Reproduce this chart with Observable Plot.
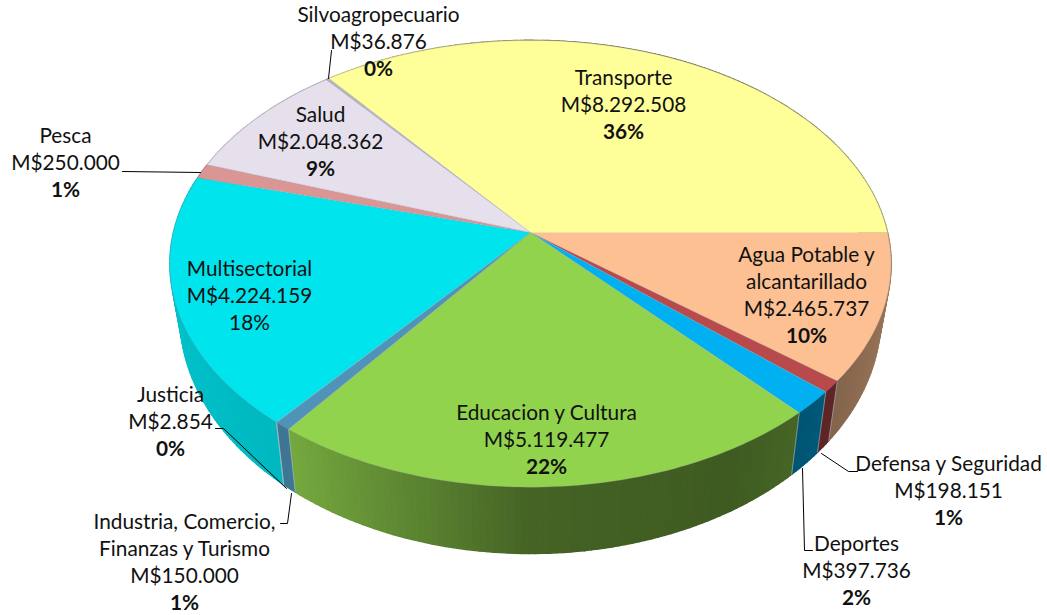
<!DOCTYPE html>
<html>
<head>
<meta charset="utf-8">
<script src="https://cdn.jsdelivr.net/npm/d3@7"></script>
<script src="https://cdn.jsdelivr.net/npm/@observablehq/plot@0.6"></script>
<style>
  html, body { margin: 0; padding: 0; background: #fff; }
  svg { display: block; }
</style>
</head>
<body>
<div id="chart"></div>
<script>
// ---- chart data (clockwise from the horizontal right-hand radius) ----
const sectors = ["Agua Potable y\nalcantarillado", "Defensa y Seguridad", "Deportes", "Educacion y Cultura",
  "Industria, Comercio,\nFinanzas y Turismo", "Justicia", "Multisectorial", "Pesca", "Salud", "Silvoagropecuario", "Transporte"];
const values = [2465737, 198151, 397736, 5119477, 150000, 2854, 4224159, 250000, 2048362, 36876, 8292508];
const percents = ["10%", "1%", "2%", "22%", "1%", "0%", "18%", "1%", "9%", "0%", "36%"];
const faceColors = ["#FCC092", "#B94A4C", "#00B0F0", "#92D34E", "#4F93B8", "#4F93B8", "#00E4EE", "#D99694", "#E6E0EC", "#B9B4C4", "#FFFF99"];

// ---- label layout (page coordinates of each label's first line, line pitch below) ----
const labelX = [806, 948, 856, 546, 184, 170, 249, 65, 320, 378, 623];
const labelY = [255, 464, 544, 413, 522, 395, 269, 136, 115, 15, 78];
const lightPercent = ["18%"];
const linePitch = 26.9;

// ---- leader lines ----
const leaders = [
  [[331, 50], [328, 78]],
  [[122, 171], [200, 172]],
  [[215, 428], [223, 428], [286, 488]],
  [[280, 523], [287, 523], [291, 493]],
  [[802, 468], [804, 550], [812, 550]],
  [[821, 453], [848, 471], [857, 471]]
];

// ---- perspective of the disc ----
const tilt = 0.14;
const topDisc = {cx: 530, cy: 232, a: 357, b: 219};
const baseDisc = {cx: 530, cy: 282, a: 347, b: 233};
const project = (disc, t) => {
  const u = Math.cos(t), v = Math.sin(t), w = 1 + tilt * v;
  return {x: disc.cx + disc.a * u / w, y: disc.cy - disc.b * v / w};
};
const shade = d3.scaleLinear().domain([-1, -0.6, 0, 0.5, 0.75, 1]).range([0.85, 0.8, 0.47, 0.43, 0.5, 0.62]);

// ---- derive slices from the values ----
const total = d3.sum(values);
const cumulative = d3.cumsum(values);
const toAngle = (s) => -2 * Math.PI * s / total;
const deg = Math.PI / 180;
const faces = [], walls = [], seams = [];
sectors.forEach((name, i) => {
  const t0 = toAngle(i ? cumulative[i - 1] : 0), t1 = toAngle(cumulative[i]);
  const n = Math.max(2, Math.ceil(Math.abs(t1 - t0) / deg));
  const ts = d3.range(n + 1).map(k => t0 + (t1 - t0) * k / n);
  faces.push({id: i, color: faceColors[i], x: topDisc.cx, y: topDisc.cy});
  ts.forEach(t => faces.push({id: i, color: faceColors[i], ...project(topDisc, t)}));
  for (let k = 0; k < n; k++) {
    const mid = (ts[k] + ts[k + 1]) / 2;
    const f = shade(Math.cos(mid));
    const c = d3.rgb(faceColors[i]);
    const color = d3.rgb(c.r * f, c.g * f, c.b * f).formatHex();
    const id = i + "-" + k;
    [project(topDisc, ts[k]), project(topDisc, ts[k + 1]), project(baseDisc, ts[k + 1]), project(baseDisc, ts[k])]
      .forEach(p => walls.push({id, color, ...p}));
  }
  if (Math.sin(t1) < 0) {
    seams.push({id: i, ...project(topDisc, t1)}, {id: i, ...project(baseDisc, t1)});
  }
});

const labelRows = [];
sectors.forEach((name, i) => {
  const lines = [...name.split("\n"), "M$" + d3.formatLocale({thousands: ".", grouping: [3], decimal: ","}).format(",")(values[i])];
  lines.concat(percents[i]).forEach((text, k, all) => labelRows.push({
    text, x: labelX[i], y: labelY[i] + k * linePitch,
    bold: k === all.length - 1 && !lightPercent.includes(text)
  }));
});
const leaderRows = leaders.flatMap((pts, id) => pts.map(([x, y]) => ({id, x, y})));

const textOpts = {x: "x", y: "y", text: "text", fontFamily: "Lato", fontSize: 20.8, fill: "#111", textAnchor: "middle", lineAnchor: "middle"};

const chart = Plot.plot({
  width: 1047, height: 615, margin: 0,
  x: {domain: [0, 1047], range: [0, 1047], axis: null},
  y: {domain: [0, 615], range: [0, 615], axis: null},
  color: {type: "identity"},
  marks: [
    Plot.line(walls, {x: "x", y: "y", z: "id", fill: "color", stroke: "color", strokeWidth: 1.6}),
    Plot.line(seams, {x: "x", y: "y", z: "id", stroke: "#b8c8cc", strokeWidth: 0.8, strokeOpacity: 0.7}),
    Plot.line(faces, {x: "x", y: "y", z: "id", fill: "color", stroke: "#8f93a6", strokeWidth: 0.7, strokeOpacity: 0.4}),
    Plot.line(leaderRows, {x: "x", y: "y", z: "id", stroke: "#000", strokeWidth: 1}),
    Plot.text(labelRows.filter(d => !d.bold), textOpts),
    Plot.text(labelRows.filter(d => d.bold), {...textOpts, fontWeight: "bold"})
  ]
});
document.getElementById("chart").append(chart);
</script>
</body>
</html>
